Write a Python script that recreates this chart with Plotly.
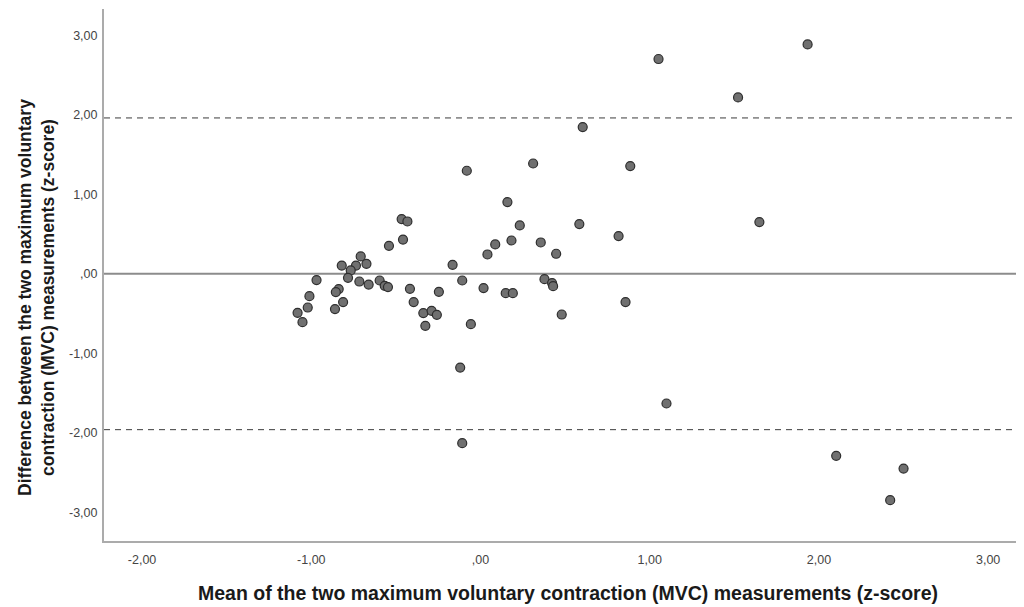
import plotly.graph_objects as go

# Mean of the two MVC measurements (z-score)
mean_vals = [
    -0.081, 0.311, 0.885, 0.159, -0.466, -0.432, 0.232, 0.584, -0.458, 0.183,
    -0.541, 0.087, 0.356, 0.816, 0.041, 0.447, -0.708, -0.674, -0.736, -0.820,
    -0.165, -0.767, -0.783, -0.716, -0.661, -0.596, -0.566, -0.547, -0.108, 0.378,
    0.423, 0.429, -0.417, -0.246, 0.018, 0.149, 0.191, -0.838, -0.855, -0.812,
    -0.860, -0.395, -0.338, -0.289, -0.258, -0.326, -0.057, 0.480, 0.857, -0.969,
    -1.011, -1.021, -1.081, -1.052, 1.052, 1.933, 1.522, 0.604, 1.648, -0.120,
    -0.108, 1.099, 2.102, 2.500, 2.421,
]
# Difference between the two MVC measurements (z-score)
diff_vals = [
    1.296, 1.387, 1.355, 0.902, 0.688, 0.658, 0.608, 0.625, 0.431, 0.419,
    0.352, 0.369, 0.394, 0.474, 0.243, 0.252, 0.218, 0.126, 0.104, 0.104,
    0.113, 0.042, -0.050, -0.097, -0.135, -0.084, -0.151, -0.167, -0.084, -0.067,
    -0.117, -0.155, -0.189, -0.226, -0.180, -0.243, -0.243, -0.192, -0.230, -0.356,
    -0.444, -0.356, -0.494, -0.465, -0.516, -0.654, -0.633, -0.512, -0.356, -0.079,
    -0.281, -0.424, -0.491, -0.608, 2.701, 2.884, 2.218, 1.845, 0.650, -1.179,
    -2.130, -1.631, -2.289, -2.449, -2.847,
]

mean_diff = 0.0
upper_loa = 1.96
lower_loa = -1.96

x_ticks = [-2, -1, 0, 1, 2, 3]
x_tick_labels = ["-2,00", "-1,00", ",00", "1,00", "2,00", "3,00"]
y_ticks = [-3, -2, -1, 0, 1, 2, 3]
y_tick_labels = ["-3,00", "-2,00", "-1,00", ",00", "1,00", "2,00", "3,00"]

x_title = "Mean of the two maximum voluntary contraction (MVC) measurements (z-score)"
y_title = "Difference between the two maximum voluntary<br>contraction (MVC) measurements (z-score)"

FONT = "Liberation Sans, Arial, sans-serif"

fig = go.Figure()

fig.add_hline(y=mean_diff, line=dict(color="#8c8c8c", width=2), layer="below")
fig.add_hline(y=upper_loa, line=dict(color="#3c3c3c", width=1, dash="6px,5px"), layer="below")
fig.add_hline(y=lower_loa, line=dict(color="#3c3c3c", width=1, dash="6px,5px"), layer="below")

fig.add_trace(go.Scatter(
    x=mean_vals, y=diff_vals, mode="markers",
    marker=dict(size=9, color="#707070", line=dict(color="#2e2e2e", width=1.2)),
    showlegend=False, hoverinfo="skip",
))

fig.add_annotation(
    text="<b>" + x_title + "</b>", xref="paper", yref="paper", x=0.505, y=0,
    xanchor="center", yanchor="middle", yshift=-52, showarrow=False,
    font=dict(size=19.5, color="#1a1a1a", family=FONT),
)
fig.add_annotation(
    text="<b>" + y_title + "</b>", xref="paper", yref="paper", x=0, y=0.457,
    xanchor="center", yanchor="middle", xshift=-67, showarrow=False, textangle=-90,
    font=dict(size=17.5, color="#1a1a1a", family=FONT),
)

# page body has an 8px default margin, so the figure is 8px smaller than the window
fig.update_layout(
    width=1016, height=599,
    margin=dict(l=96, r=2, t=1, b=66),
    paper_bgcolor="white", plot_bgcolor="white",
    font=dict(family=FONT, color="#444444", size=13),
    xaxis=dict(
        range=[-2.225, 3.2], tickvals=x_ticks, ticktext=x_tick_labels,
        showgrid=False, zeroline=False, showline=True, linecolor="#ababab", linewidth=2,
        ticks="", ticklen=0, tickfont=dict(size=12.5, color="#444444"),
        ticklabelstandoff=6, automargin=False,
    ),
    yaxis=dict(
        range=[-3.36, 3.33], tickvals=y_ticks, ticktext=y_tick_labels,
        showgrid=False, zeroline=False, showline=True, linecolor="#ababab", linewidth=2,
        ticks="", ticklen=0, tickfont=dict(size=12.5, color="#444444"),
        ticklabelstandoff=2, automargin=False,
    ),
)

fig.write_html("out.html")
